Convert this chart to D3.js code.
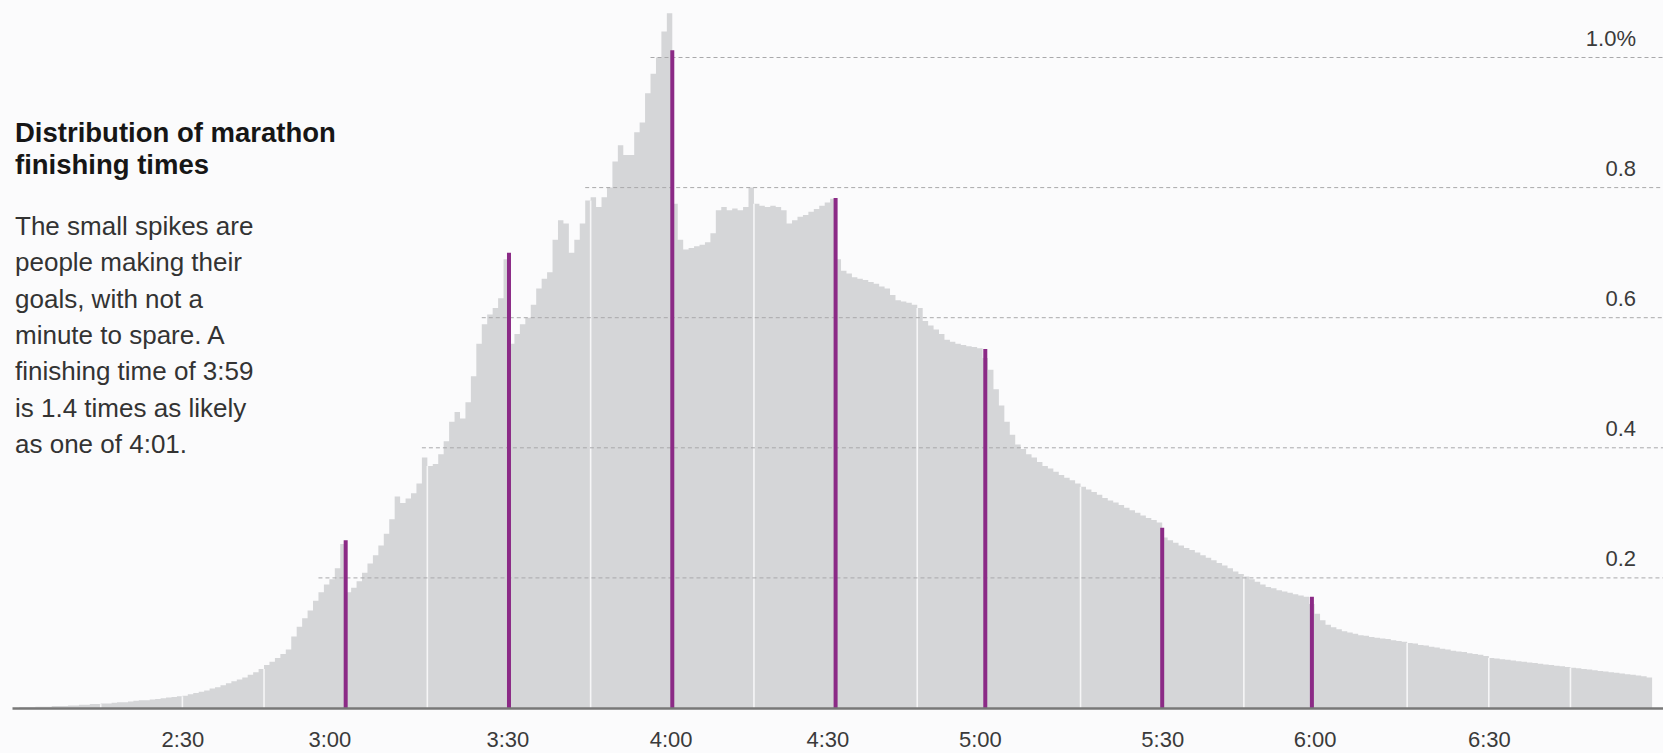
<!DOCTYPE html>
<html>
<head>
<meta charset="utf-8">
<script src="https://cdn.jsdelivr.net/npm/d3@7"></script>
<style>
  body { margin: 0; background: #fbfbfc; }
  svg { display: block; font-family: "Liberation Sans", Arial, sans-serif; }
</style>
</head>
<body>
<svg id="chart"></svg>
<script>
// share of finishers (%) for each one-minute bin, starting at 2:00
const firstMinute = 120;
const shares = [
  0.001,0.001,0.001,0.002,0.002,0.002,0.003,0.003,0.003,0.004, // 2:00
  0.004,0.005,0.005,0.006,0.006,0.007,0.007,0.008,0.009,0.009, // 2:10
  0.010,0.011,0.012,0.012,0.013,0.014,0.015,0.016,0.017,0.018, // 2:20
  0.019,0.021,0.023,0.025,0.027,0.030,0.032,0.035,0.038,0.041, // 2:30
  0.044,0.047,0.051,0.055,0.060,0.066,0.071,0.077,0.083,0.090, // 2:40
  0.110,0.125,0.138,0.150,0.165,0.178,0.190,0.198,0.215,0.252, // 2:50
  0.178,0.185,0.195,0.208,0.222,0.235,0.250,0.268,0.290,0.325, // 3:00
  0.315,0.322,0.330,0.345,0.385,0.372,0.375,0.390,0.410,0.440, // 3:10
  0.455,0.445,0.470,0.510,0.560,0.590,0.605,0.615,0.630,0.690, // 3:20
  0.560,0.575,0.590,0.600,0.620,0.645,0.660,0.670,0.720,0.750, // 3:30
  0.745,0.700,0.720,0.745,0.780,0.785,0.770,0.785,0.800,0.840, // 3:40
  0.865,0.850,0.850,0.885,0.900,0.945,0.975,1.000,1.040,1.068, // 3:50
  0.775,0.720,0.705,0.707,0.710,0.712,0.716,0.730,0.765,0.770, // 4:00
  0.765,0.768,0.765,0.770,0.800,0.775,0.772,0.770,0.772,0.770, // 4:10
  0.765,0.745,0.750,0.755,0.758,0.763,0.767,0.772,0.777,0.783, // 4:20
  0.690,0.672,0.668,0.662,0.660,0.658,0.655,0.652,0.648,0.645, // 4:30
  0.635,0.627,0.625,0.623,0.620,0.615,0.595,0.588,0.582,0.575, // 4:40
  0.566,0.563,0.560,0.558,0.556,0.555,0.553,0.538,0.520,0.490, // 4:50
  0.465,0.440,0.420,0.405,0.398,0.390,0.385,0.378,0.372,0.368, // 5:00
  0.363,0.358,0.354,0.350,0.345,0.340,0.336,0.332,0.328,0.323, // 5:10
  0.319,0.316,0.312,0.308,0.304,0.300,0.296,0.292,0.289,0.285, // 5:20
  0.262,0.258,0.254,0.250,0.246,0.243,0.239,0.235,0.231,0.227, // 5:30
  0.223,0.219,0.215,0.210,0.206,0.202,0.198,0.194,0.190,0.186, // 5:40
  0.184,0.181,0.179,0.177,0.175,0.173,0.171,0.160,0.145,0.135, // 5:50
  0.128,0.124,0.121,0.118,0.116,0.114,0.112,0.111,0.109,0.108, // 6:00
  0.107,0.106,0.104,0.103,0.102,0.100,0.099,0.097,0.096,0.094, // 6:10
  0.093,0.091,0.090,0.088,0.087,0.086,0.084,0.083,0.082,0.080, // 6:20
  0.077,0.076,0.075,0.074,0.073,0.072,0.071,0.070,0.069,0.068, // 6:30
  0.067,0.066,0.065,0.064,0.063,0.062,0.061,0.060,0.059,0.058, // 6:40
  0.057,0.056,0.055,0.054,0.053,0.052,0.051,0.050,0.049,0.047  // 6:50
];

// purple "goal" spikes just before each half hour
const goalMinutes = [180, 210, 240, 270, 297.5, 330, 357.5];
const goalShares  = [0.258, 0.700, 1.011, 0.784, 0.552, 0.277, 0.171];

// white quarter-hour lines inside the bars
const quarterMinutes = [135, 150, 165, 195, 225, 255, 285, 315, 345, 375, 390, 405];

// horizontal dashed lines
const gridShares = [0.2, 0.4, 0.6, 0.8, 1.0];
const gridLabels = ["0.2", "0.4", "0.6", "0.8", "1.0%"];

// x axis labels (placed as in the original)
const tickMinutes = [150, 177, 209.7, 239.7, 268.5, 296.5, 330, 358, 390];
const tickLabels  = ["2:30", "3:00", "3:30", "4:00", "4:30", "5:00", "5:30", "6:00", "6:30"];

const titleLines = ["Distribution of marathon", "finishing times"];
const noteLines = [
  "The small spikes are",
  "people making their",
  "goals, with not a",
  "minute to spare. A",
  "finishing time of 3:59",
  "is 1.4 times as likely",
  "as one of 4:01."
];

class FinishHistogram {
  constructor() {
    this.width = 1663;
    this.height = 753;
    this.data = shares.map((v, i) => ({ minute: firstMinute + i, share: v }));
  }

  // lower of the two bins on either side of a minute mark
  shareAt(m) {
    const i = Math.round(m) - firstMinute;
    return Math.min(shares[i - 1] ?? 0, shares[i] ?? 0);
  }

  init() {
    this.svg = d3.select('#chart')
      .attr('width', this.width)
      .attr('height', this.height);

    this.svg.append('rect')
      .attr('width', this.width).attr('height', this.height)
      .attr('fill', '#fbfbfc');

    this.xscale = d3.scaleLinear().domain([118.7, 422]).range([12, 1663]);
    this.yscale = d3.scaleLinear().domain([0, 1]).range([708, 57.5]);

    this.render();
  }

  render() {
    const x = this.xscale, y = this.yscale;
    const g = this.svg.append('g');

    // bars as one stepped area (no seams between bins)
    const last = this.data[this.data.length - 1];
    const steps = this.data.concat([{ minute: last.minute + 1, share: last.share }]);
    const area = d3.area()
      .curve(d3.curveStepAfter)
      .x(d => x(d.minute))
      .y0(y(0))
      .y1(d => y(d.share));

    g.append('path')
      .datum(steps)
      .attr('d', area)
      .attr('fill', '#d5d6d8');

    // white quarter hour lines
    g.selectAll('line.quarter').data(quarterMinutes).enter()
      .append('line')
      .attr('x1', d => x(d)).attr('x2', d => x(d))
      .attr('y1', y(0)).attr('y2', d => y(this.shareAt(d)))
      .attr('stroke', '#f6f6f7')
      .attr('stroke-width', 1.6);

    // dashed grid lines start where the bars first reach them
    g.selectAll('line.grid').data(gridShares).enter()
      .append('line')
      .attr('x1', d => {
        const first = this.data.find(b => b.share >= d - 0.03);
        return x(first.minute);
      })
      .attr('x2', x.range()[1])
      .attr('y1', d => y(d)).attr('y2', d => y(d))
      .attr('stroke', '#a9a9ab')
      .attr('stroke-width', 1)
      .attr('stroke-dasharray', '4,3');

    g.selectAll('text.grid').data(gridShares).enter()
      .append('text')
      .attr('x', 1636)
      .attr('y', d => y(d) - 11.5)
      .attr('text-anchor', 'end')
      .attr('font-size', 22)
      .attr('fill', '#3a3a3a')
      .text((d, i) => gridLabels[i]);

    // goal spikes
    g.selectAll('line.goal').data(goalMinutes).enter()
      .append('line')
      .attr('x1', d => x(d)).attr('x2', d => x(d))
      .attr('y1', y(0))
      .attr('y2', (d, i) => y(goalShares[i]))
      .attr('stroke', '#8b2a86')
      .attr('stroke-width', 4);

    // x axis
    const xaxis = d3.axisBottom(x)
      .tickValues(tickMinutes)
      .tickFormat((d, i) => tickLabels[i])
      .tickSize(0)
      .tickSizeOuter(0)
      .tickPadding(23);

    const axisGroup = this.svg.append('g')
      .attr('transform', `translate(0, ${y(0)})`)
      .call(xaxis);
    axisGroup.select('.domain')
      .attr('stroke', '#787878')
      .attr('stroke-width', 2.5);
    axisGroup.selectAll('text')
      .attr('font-size', 22)
      .attr('font-family', '"Liberation Sans", Arial, sans-serif')
      .attr('fill', '#3a3a3a');

    // title and note
    this.svg.selectAll('text.title').data(titleLines).enter()
      .append('text')
      .attr('x', 15)
      .attr('y', (d, i) => 141.7 + i * 32.3)
      .attr('font-size', 27.5)
      .attr('font-weight', 'bold')
      .attr('fill', '#161616')
      .text(d => d);

    this.svg.selectAll('text.note').data(noteLines).enter()
      .append('text')
      .attr('x', 15)
      .attr('y', (d, i) => 235 + i * 36.3)
      .attr('font-size', 26)
      .attr('fill', '#333')
      .text(d => d);
  }
}

const chart = new FinishHistogram();
chart.init();
</script>
</body>
</html>
